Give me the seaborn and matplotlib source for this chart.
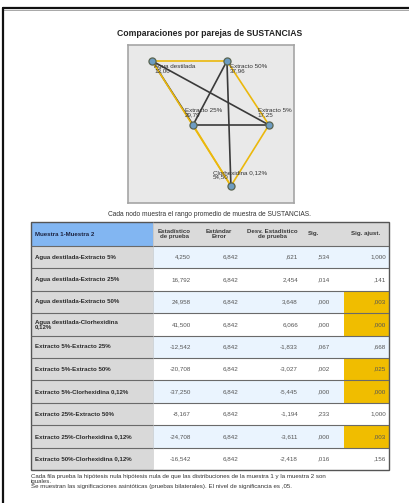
import numpy as np
import pandas as pd
import matplotlib
matplotlib.use("Agg")
import matplotlib.pyplot as plt
from matplotlib.lines import Line2D
from matplotlib.patches import Rectangle
import seaborn as sns

# ================= datos =================
nodes = ["Agua destilada", "Extracto 5%", "Extracto 25%", "Extracto 50%", "Clorhexidina 0,12%"]
mean_rank = [13.00, 17.25, 29.79, 37.96, 54.50]
# posicion de los nodos dentro del panel (fraccion del panel, y hacia abajo)
node_x = [0.145, 0.849, 0.392, 0.596, 0.620]
node_y = [0.101, 0.506, 0.506, 0.101, 0.892]

pair_a = [0, 0, 0, 0, 1, 1, 1, 2, 2, 3]
pair_b = [1, 2, 3, 4, 2, 3, 4, 3, 4, 4]
row_labels = [
    "Agua destilada-Extracto 5%",
    "Agua destilada-Extracto 25%",
    "Agua destilada-Extracto 50%",
    "Agua destilada-Clorhexidina\n0,12%",
    "Extracto 5%-Extracto 25%",
    "Extracto 5%-Extracto 50%",
    "Extracto 5%-Clorhexidina 0,12%",
    "Extracto 25%-Extracto 50%",
    "Extracto 25%-Clorhexidina 0,12%",
    "Extracto 50%-Clorhexidina 0,12%",
]
test_stat = [4.250, 16.792, 24.958, 41.500, -12.542, -20.708, -37.250, -8.167, -24.708, -16.542]
std_err = [6.842] * 10
std_stat = [0.621, 2.454, 3.648, 6.066, -1.833, -3.027, -5.445, -1.194, -3.611, -2.418]
sig = [0.534, 0.014, 0.000, 0.000, 0.067, 0.002, 0.000, 0.233, 0.000, 0.016]
sig_adj = [1.000, 0.141, 0.003, 0.000, 0.668, 0.025, 0.000, 1.000, 0.003, 0.156]
headers = ["Muestra 1-Muestra 2", "Estadístico\nde prueba", "Estándar\nError",
           "Desv. Estadístico\nde prueba", "Sig.", "Sig. ajust."]

ALPHA = 0.05
W, H = 409, 503

# ================= estilo =================
sns.set_style("white")
plt.rcParams["font.family"] = ["Liberation Sans", "DejaVu Sans"]
TXT = "#333333"
YELLOW = "#ebb80c"
DARK = "#3a3a3a"


def fmt(v, nd=3):
    s = f"{v:.{nd}f}".replace(".", ",")
    if s.startswith("0,"):
        s = s[1:]
    elif s.startswith("-0,"):
        s = "-" + s[2:]
    return s


def fx(px):
    return px / W


def fy(py):
    return 1 - py / H


fig = plt.figure(figsize=(W / 100, H / 100), dpi=100)

# marco exterior
fig.add_artist(Line2D([fx(3), 1], [fy(8), fy(8)], color="#111111", lw=1.6))
fig.add_artist(Line2D([fx(3), 1], [fy(9.5), fy(9.5)], color="#999999", lw=0.6))
fig.add_artist(Line2D([fx(3), fx(3)], [fy(8), 0], color="#111111", lw=1.6))

fig.text(fx(210), fy(33), "Comparaciones por parejas de SUSTANCIAS", ha="center", va="center",
         fontsize=6.2, fontweight="bold", color="#222222")

# --- red de comparaciones ---
ax_n = fig.add_axes([fx(128), fy(203), fx(294) - fx(128), fy(45) - fy(203)])
ax_n.set_facecolor("#e9e9e9")

rows = []
for k, (a, b) in enumerate(zip(pair_a, pair_b)):
    flag = "sig" if sig_adj[k] < ALPHA else "ns"
    rows.append({"pair": k, "x": node_x[a], "y": node_y[a], "flag": flag})
    rows.append({"pair": k, "x": node_x[b], "y": node_y[b], "flag": flag})
edges = pd.DataFrame(rows)

sns.lineplot(data=edges[edges["flag"] == "ns"], x="x", y="y", units="pair", estimator=None,
             sort=False, color=DARK, lw=1.2, ax=ax_n, legend=False)
sns.lineplot(data=edges[edges["flag"] == "sig"], x="x", y="y", units="pair", estimator=None,
             sort=False, color=YELLOW, lw=1.2, ax=ax_n, legend=False)
sns.scatterplot(x=node_x, y=node_y, s=26, color="#6d9cc2", edgecolor="#5a6450",
                linewidth=0.9, zorder=4, ax=ax_n, legend=False)

label_off = [(2, -3), (-11, 17), (-8, 17), (3, -3), (-18, 16)]
for i, name in enumerate(nodes):
    ax_n.annotate(f"{name}\n{fmt(mean_rank[i], 2)}", (node_x[i], node_y[i]),
                  xytext=label_off[i], textcoords="offset pixels", ha="left", va="top",
                  fontsize=4.5, color=TXT, linespacing=0.95, zorder=5)

ax_n.set_xlim(0, 1)
ax_n.set_ylim(1, 0)
ax_n.set_xticks([])
ax_n.set_yticks([])
ax_n.set_xlabel("")
ax_n.set_ylabel("")
for sp in ax_n.spines.values():
    sp.set_color("#a5a5a5")
    sp.set_linewidth(1.2)

fig.text(fx(210), fy(214), "Cada nodo muestra el rango promedio de muestra de SUSTANCIAS.",
         ha="center", va="center", fontsize=4.8, color=TXT)

# --- tabla ---
T_LEFT, T_RIGHT, T_TOP, T_BOT = 31, 389, 222, 470
HEAD_H = 24
n = len(row_labels)
row_h = (T_BOT - T_TOP - HEAD_H) / n
ax_t = fig.add_axes([fx(T_LEFT), fy(T_BOT), fx(T_RIGHT) - fx(T_LEFT), fy(T_TOP) - fy(T_BOT)])
ax_t.set_xlim(T_LEFT, T_RIGHT)
ax_t.set_ylim(n, -HEAD_H / row_h)
ax_t.axis("off")

col_edges = [31, 153, 196, 243, 304, 344, 389]
head_x = [35, 174, 219, 272, 314, 366]
val_right = [191, 238, 298, 330, 386]
y_head = -HEAD_H / row_h

# fondos
ax_t.add_patch(Rectangle((col_edges[0], y_head), col_edges[1] - col_edges[0], -y_head,
                         facecolor="#82b6f2", edgecolor="none"))
ax_t.add_patch(Rectangle((col_edges[1], y_head), col_edges[-1] - col_edges[1], -y_head,
                         facecolor="#dadada", edgecolor="none"))
for r in range(n):
    ax_t.add_patch(Rectangle((col_edges[0], r), col_edges[1] - col_edges[0], 1,
                             facecolor="#d9d9d9", edgecolor="none"))
    ax_t.add_patch(Rectangle((col_edges[1], r), col_edges[-1] - col_edges[1], 1,
                             facecolor="#eaf4fe" if r % 2 == 0 else "white", edgecolor="none"))
    if sig_adj[r] < ALPHA:
        ax_t.add_patch(Rectangle((col_edges[5], r), col_edges[6] - col_edges[5], 1,
                                 facecolor="#f0bd00", edgecolor="none"))

# lineas
ax_t.hlines([0] + list(range(1, n)), T_LEFT, T_RIGHT, color="#6a6a6a", lw=0.8)
ax_t.add_patch(Rectangle((T_LEFT, y_head), T_RIGHT - T_LEFT, n - y_head, facecolor="none",
                         edgecolor="#555555", lw=1.0, clip_on=False))
ax_t.vlines(col_edges[1], y_head, n, color="#bdbdbd", lw=0.4)

# cabecera
ax_t.text(head_x[0], y_head / 2, headers[0], ha="left", va="center", fontsize=4.4,
          fontweight="bold", color="#1c2340")
for j in range(1, 6):
    ax_t.text(head_x[j], y_head / 2, headers[j], ha="center", va="center", fontsize=4.4,
              fontweight="bold", color="#3a3a3a", linespacing=0.9)

# filas
cols = [test_stat, std_err, std_stat, sig, sig_adj]
for r in range(n):
    ax_t.text(35, r + 0.5, row_labels[r], ha="left", va="center", fontsize=4.4,
              fontweight="bold", color="#2a2a2a", linespacing=0.85)
    for j, c in enumerate(cols):
        ax_t.text(val_right[j], r + 0.5, fmt(c[r]), ha="right", va="center",
                  fontsize=4.5, color="#555555")

fig.text(fx(31), fy(474),
         "Cada fila prueba la hipótesis nula hipótesis nula de que las distribuciones de la muestra 1 y la muestra 2 son\n"
         "iguales.\n"
         "Se muestran las significaciones asintóticas (pruebas bilaterales). El nivel de significancia es ,05.",
         ha="left", va="top", fontsize=4.4, color=TXT, linespacing=0.95)

fig.savefig("out.png", dpi=100)
